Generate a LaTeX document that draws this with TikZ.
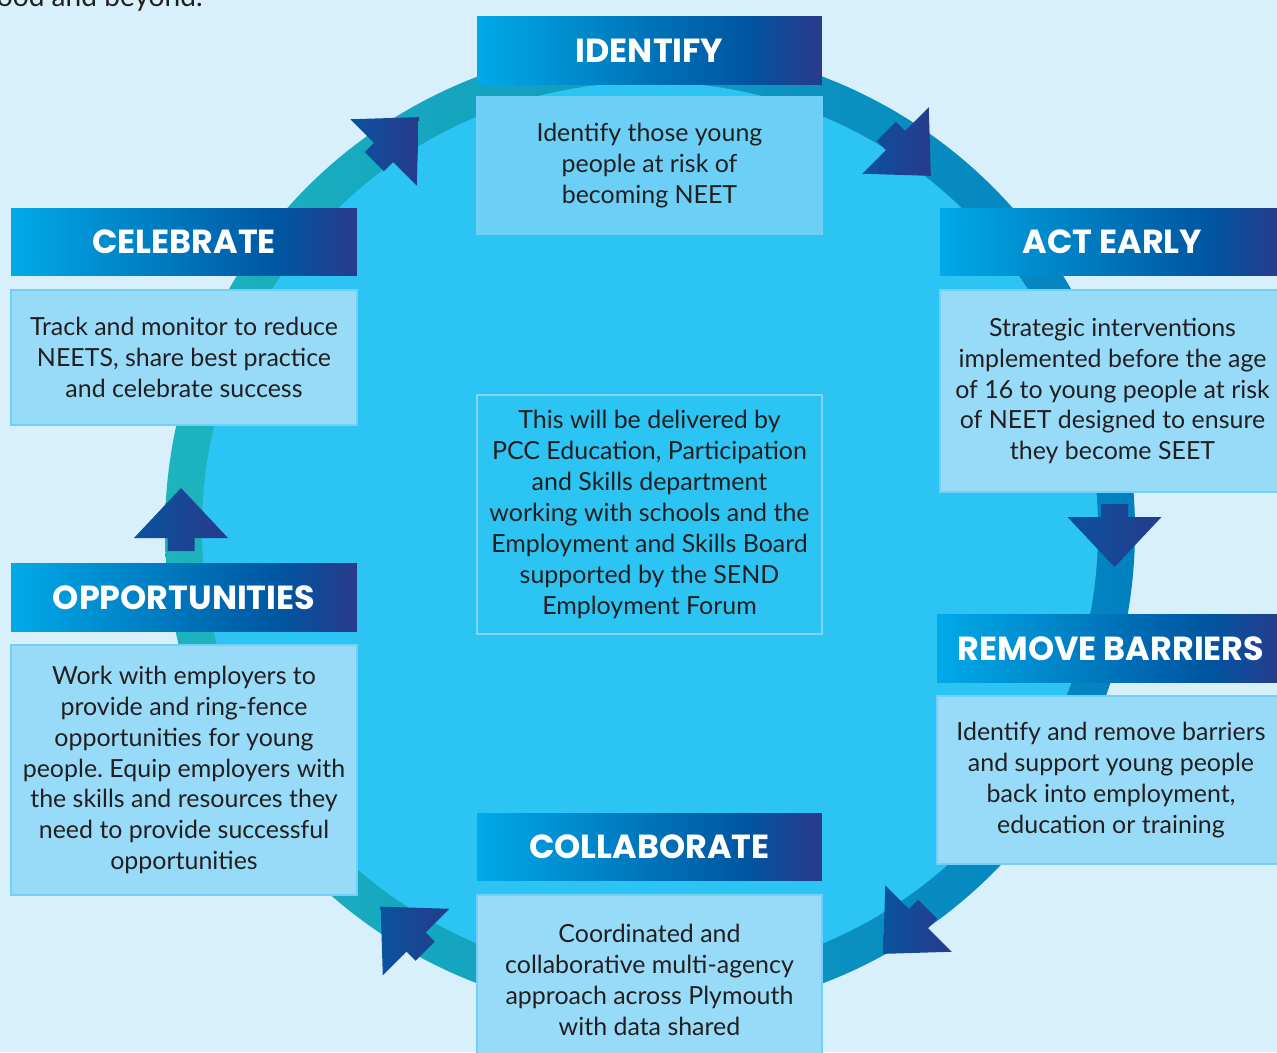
\documentclass[tikz,border=0pt]{standalone}
\usepackage{fontspec}
\setmainfont{Lato}
\newfontfamily\headfont{Poppins}
\usepackage{tikz}
\usetikzlibrary{shadings}
\frenchspacing

\definecolor{paper}{HTML}{D8F0FC}
\definecolor{disc}{HTML}{2BC4F3}
\definecolor{ringL}{HTML}{1DB4BE}
\definecolor{ringR}{HTML}{0281C1}
\definecolor{headA}{HTML}{00AAE8}
\definecolor{headB}{HTML}{0055A0}
\definecolor{headC}{HTML}{2A3A8B}
\definecolor{bodyfill}{HTML}{98DBF8}
\definecolor{bodyline}{HTML}{72D0F6}
\definecolor{idfill}{HTML}{6CCFF6}
\definecolor{centreline}{HTML}{80D6F7}
\definecolor{arrowA}{HTML}{0A529E}
\definecolor{arrowB}{HTML}{273B8B}
\definecolor{ink}{HTML}{231F20}

\pgfdeclarehorizontalshading{headshade}{100bp}{color(0bp)=(headA); color(25bp)=(headA); color(64bp)=(headB); color(75bp)=(headC); color(100bp)=(headC)}

\tikzset{
    head/.style={shade, shading=headshade, minimum height=1.35cm, inner sep=0pt,
        text=white, font=\headfont\bfseries\fontsize{19}{22}\selectfont},
    body/.style={fill=bodyfill, draw=bodyline, line width=1.3pt, inner sep=0pt,
        align=center, text=ink, font=\fontsize{14.2}{17.6}\selectfont},
    cyclearrow/.pic={
        \shade[left color=arrowA, right color=arrowB]
            (-13,-13.5) -- (0,-13.5) -- (0,-47) -- (50,0) -- (0,47) -- (0,13.5) -- (-13,13.5) -- cycle;
    }
}

\begin{document}
\begin{tikzpicture}[x=0.02cm, y=-0.02cm]
            \clip (0,0) rectangle (1277,1052);
            \fill[paper] (0,0) rectangle (1277,1052);
            \node[anchor=base east, text=ink, font=\fontsize{16}{18}\selectfont, inner sep=0pt] (intro) at (203,6) {ood and beyond.};

            \shade[left color=ringL, right color=ringR] (650,530) circle[radius=485];
            \fill[disc] (650,530) circle[radius=448];

            \pic[rotate=45] at (383.5,152.5) {cyclearrow};
            \pic[rotate=-45] at (895.5,140.5) {cyclearrow};
            \pic[rotate=-90] at (1114.5,517) {cyclearrow};
            \pic[rotate=-135] at (918.5,918.5) {cyclearrow};
            \pic[rotate=135] at (416,942) {cyclearrow};
            \pic[rotate=90] at (181,538) {cyclearrow};

            \node[head, minimum width=6.9cm] (identify) at (649.5,50.5) {IDENTIFY};
            \node[body, fill=idfill, minimum width=6.9cm, minimum height=2.74cm] (identifytext) at (649.5,165.5)
                {Identify those young\\people at risk of\\becoming NEET};

            \node[head, minimum width=6.92cm] (celebrate) at (184,242) {CELEBRATE};
            \node[body, minimum width=6.92cm, minimum height=2.7cm] (celebratetext) at (184,357.5)
                {Track and monitor to reduce\\NEETS, share best practice\\and celebrate success};

            \node[head, minimum width=6.9cm] (actearly) at (1112.5,242) {ACT EARLY};
            \node[body, minimum width=6.9cm, minimum height=4.04cm] (actearlytext) at (1112.5,391)
                {Strategic interventions\\implemented before the age\\of 16 to young people at risk\\of NEET designed to ensure\\they become SEET};

            \node[head, minimum width=6.92cm] (opportunities) at (184,597.5) {OPPORTUNITIES};
            \node[body, minimum width=6.92cm, minimum height=5cm] (opportunitiestext) at (184,770)
                {Work with employers to\\provide and ring-fence\\opportunities for young\\people. Equip employers with\\the skills and resources they\\need to provide successful\\opportunities};

            \node[head, minimum width=6.96cm] (barriers) at (1111,648.5) {REMOVE BARRIERS};
            \node[body, minimum width=6.96cm, minimum height=3.36cm] (barrierstext) at (1111,780)
                {Identify and remove barriers\\and support young people\\back into employment,\\education or training};

            \node[head, minimum width=6.9cm] (collaborate) at (649.5,847) {COLLABORATE};
            \node[body, minimum width=6.9cm, minimum height=3.4cm] (collaboratetext) at (649.5,980)
                {Coordinated and\\collaborative multi-agency\\approach across Plymouth\\with data shared};

            \node[body, fill=disc, draw=centreline, minimum width=6.9cm, minimum height=4.78cm] (delivery) at (649.5,514.5)
                {This will be delivered by\\PCC Education, Participation\\and Skills department\\working with schools and the\\Employment and Skills Board\\supported by the SEND\\Employment Forum};
        \end{tikzpicture}
\end{document}
